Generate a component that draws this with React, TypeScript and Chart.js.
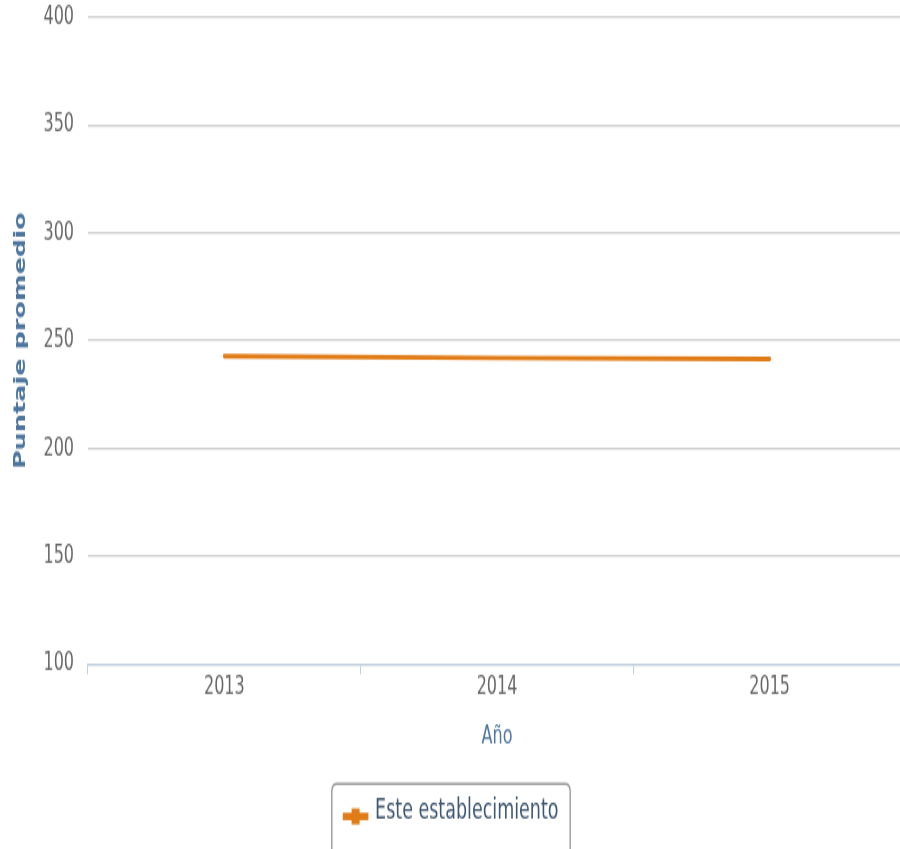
import React, { useEffect, useRef } from "react";
import { Chart, registerables } from "chart.js";

Chart.register(...registerables);

const years = ["2013", "2014", "2015"];
const puntaje = [242.8, 242.0, 241.5];
const seriesName = "Este establecimiento";
const yTitle = "Puntaje promedio";
const xTitle = "Año";
const yMin = 100;
const yMax = 400;
const yStep = 50;

const ORANGE = "#E07B16";
const FONT = "'DejaVu Sans', sans-serif";
const CANVAS_W = 906;
const CANVAS_H = 531;
const SCALE_Y = 849 / CANVAS_H;

const legendPlugin = {
  id: "customLegend",
  afterDraw(chart: any) {
    const ctx = chart.ctx;
    ctx.save();
    ctx.font = `17.5px ${FONT}`;
    const tw = ctx.measureText(seriesName).width;
    const padL = 11;
    const symW = 25.6;
    const gap = 6.7;
    const padR = 11.7;
    const boxW = padL + symW + gap + tw + padR;
    const cx = 451;
    const left = cx - boxW / 2;
    const top = 490.3;
    const bottom = CANVAS_H + 10;
    const r = 5;
    ctx.beginPath();
    ctx.moveTo(left + r, top);
    ctx.lineTo(left + boxW - r, top);
    ctx.quadraticCurveTo(left + boxW, top, left + boxW, top + r);
    ctx.lineTo(left + boxW, bottom);
    ctx.lineTo(left, bottom);
    ctx.lineTo(left, top + r);
    ctx.quadraticCurveTo(left, top, left + r, top);
    ctx.closePath();
    ctx.fillStyle = "#ffffff";
    ctx.fill();
    ctx.strokeStyle = "#9a9a9a";
    ctx.lineWidth = 1.4;
    ctx.stroke();

    // plus symbol
    const sx = left + padL + symW / 2;
    const sy = 510.6;
    ctx.fillStyle = ORANGE;
    ctx.fillRect(sx - symW / 2, sy - 2.3, symW, 4.6);
    ctx.fillRect(sx - 4, sy - 5, 8, 10);

    ctx.fillStyle = "#3E576F";
    ctx.textAlign = "left";
    ctx.textBaseline = "middle";
    ctx.fillText(seriesName, left + padL + symW + gap, 507.8);
    ctx.restore();
  },
};

export default function App() {
  const ref = useRef<HTMLCanvasElement | null>(null);

  useEffect(() => {
    if (!ref.current) return;
    const chart = new Chart(ref.current, {
      type: "line",
      data: {
        labels: years,
        datasets: [
          {
            label: seriesName,
            data: puntaje,
            borderColor: ORANGE,
            backgroundColor: ORANGE,
            borderWidth: 2.8,
            borderCapStyle: "round",
            pointRadius: 0,
            pointHoverRadius: 0,
            tension: 0,
            fill: false,
          },
        ],
      },
      options: {
        animation: false,
        responsive: false,
        maintainAspectRatio: false,
        devicePixelRatio: 1,
        layout: {
          padding: { top: 10.8, left: 0, right: 0, bottom: CANVAS_H - 415.3 - 60 },
        },
        plugins: {
          legend: { display: false },
          tooltip: { enabled: false },
          title: { display: false },
        },
        scales: {
          x: {
            type: "category",
            offset: true,
            afterFit: (s: any) => {
              s.height = 60;
            },
            grid: {
              display: true,
              drawOnChartArea: false,
              drawTicks: true,
              tickLength: 6.5,
              offset: true,
              color: "#C0D0E0",
              lineWidth: 1,
            },
            border: { display: true, color: "#C0D0E0", width: 1.3 },
            ticks: {
              color: "#666666",
              font: { family: FONT, size: 16, lineHeight: 1 },
              padding: 0,
              maxRotation: 0,
            },
            title: {
              display: true,
              text: xTitle,
              color: "#4D759E",
              font: { family: FONT, size: 16, lineHeight: 1.2 },
              padding: { top: 0, bottom: 4.5 },
            },
          },
          y: {
            type: "linear",
            min: yMin,
            max: yMax,
            afterFit: (s: any) => {
              s.width = 88;
            },
            ticks: {
              stepSize: yStep,
              color: "#666666",
              font: { family: FONT, size: 16, lineHeight: 1 },
              padding: 0,
            },
            grid: {
              display: true,
              drawTicks: true,
              tickLength: 14,
              tickColor: "rgba(0,0,0,0)",
              color: "#CFCFCF",
              lineWidth: 1.2,
            },
            border: { display: false },
            title: {
              display: true,
              text: yTitle,
              color: "#4D759E",
              font: { family: FONT, size: 16, weight: "bold", lineHeight: 1.2 },
              padding: { top: 11.5, bottom: 0 },
            },
          },
        },
      },
      plugins: [legendPlugin],
    });
    return () => chart.destroy();
  }, []);

  return (
    <div
      style={{
        position: "absolute",
        left: 0,
        top: 0,
        width: 900,
        height: 849,
        overflow: "hidden",
        background: "#ffffff",
      }}
    >
      <canvas
        ref={ref}
        width={CANVAS_W}
        height={CANVAS_H}
        style={{
          display: "block",
          transform: `scaleY(${SCALE_Y})`,
          transformOrigin: "0 0",
        }}
      />
    </div>
  );
}
